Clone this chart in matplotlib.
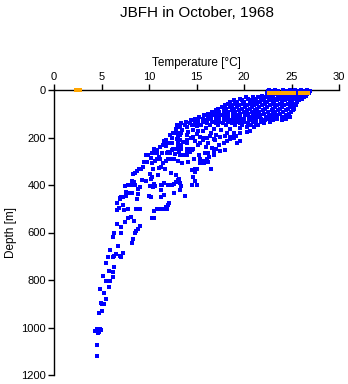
import matplotlib
matplotlib.use("Agg")
import matplotlib.pyplot as plt
from matplotlib.path import Path

plt.rcParams['font.family'] = ['Liberation Sans', 'DejaVu Sans']

title = "JBFH in October, 1968"
xlabel = "Temperature [\u00b0C]"
ylabel = "Depth [m]"
xticks = [0, 5, 10, 15, 20, 25, 30]
yticks = [0, 200, 400, 600, 800, 1000, 1200]

# Upper (mixed layer / thermocline) casts: (depth, temperatures at that depth)
upper_rows = [
    (2,   [22.6, 23.3, 24.1, 24.8, 25.4, 26.0, 26.6]),
    (6,   [22.5, 22.9, 23.6, 24.4, 25.1, 25.8, 26.3, 26.9]),
    (13,  [22.4, 23.0, 23.7, 24.3, 24.9, 25.5, 26.1, 26.8]),
    (18,  [22.7, 23.3, 24.0, 24.6, 25.2, 26.0, 26.6]),
    (24,  [21.9, 22.5, 23.1, 23.9, 24.5, 25.3, 25.9, 26.5]),
    (30,  [20.2, 20.9, 21.5, 22.2, 22.9, 23.6, 24.2, 24.9, 25.6, 26.3]),
    (36,  [19.6, 20.4, 21.1, 21.8, 22.6, 23.2, 23.9, 24.7, 25.4, 26.1]),
    (43,  [18.9, 19.8, 20.6, 21.3, 22.1, 22.8, 23.5, 24.3, 25.1, 25.8]),
    (50,  [18.5, 19.3, 20.0, 20.9, 21.7, 22.4, 23.2, 24.0, 24.8, 25.6]),
    (57,  [18.3, 19.1, 19.9, 20.6, 21.4, 22.2, 23.0, 23.8, 24.6, 25.3]),
    (64,  [18.0, 18.7, 19.5, 20.3, 21.1, 21.9, 22.7, 23.5, 24.2, 25.0, 25.5]),
    (71,  [17.7, 18.5, 19.3, 20.1, 20.8, 21.6, 22.4, 23.3, 24.0, 24.8]),
    (78,  [17.3, 18.1, 18.9, 19.8, 20.6, 21.4, 22.2, 23.0, 23.8, 24.6, 25.3]),
    (85,  [17.0, 17.9, 18.7, 19.5, 20.3, 21.2, 22.0, 22.9, 23.6, 24.4, 25.2]),
    (92,  [16.6, 17.4, 18.3, 19.1, 20.0, 20.8, 21.6, 22.5, 23.3, 24.1, 24.9]),
    (99,  [16.2, 17.0, 17.9, 18.8, 19.6, 20.4, 21.3, 22.1, 23.0, 23.8, 24.7]),
    (106, [15.8, 16.6, 17.5, 18.3, 19.2, 20.1, 20.9, 21.7, 22.6, 23.5, 24.4]),
    (113, [15.3, 16.2, 17.1, 17.9, 18.8, 19.6, 20.5, 21.4, 22.3, 23.1, 24.0, 24.8]),
    (120, [14.8, 15.7, 16.5, 17.4, 18.3, 19.2, 20.0, 20.9, 21.8, 22.6, 23.5, 24.4]),
    (127, [14.4, 15.2, 16.1, 17.0, 17.9, 18.7, 19.6, 20.5, 21.3, 22.2, 23.1, 24.0]),
    (134, [13.9, 14.8, 15.7, 16.6, 17.4, 18.3, 19.2, 20.0, 20.9, 21.8, 22.7]),
    (141, [13.4, 14.3, 15.2, 16.1, 17.0, 17.8, 18.7, 19.6, 20.4, 21.3, 22.1]),
    (148, [13.0, 13.8, 14.7, 15.5, 16.4, 17.3, 18.1, 19.0, 19.8, 20.7, 21.5]),
]

# Deeper samples (temperature, depth)
lower_temp = [
    4.3, 4.5, 4.8, 4.7, 4.6, 4.9, 4.5, 4.55,
    4.7, 5.1, 4.9, 5.0, 5.3, 5.5, 4.8, 5.3,
    5.2, 5.5, 5.7, 5.9, 5.8, 5.5, 5.7, 5.8, 6.2, 6.2, 6.3,
    5.9, 6.25, 6.35, 6.5, 6.95, 7.0, 7.3, 6.7,
    6.2, 6.35, 7.0, 7.1, 7.5, 7.8,
    6.6, 6.6, 6.8, 6.6, 6.95, 6.9,
    7.3, 7.4, 7.8, 7.05, 7.3, 7.6, 7.6, 7.75, 8.2,
    7.5, 7.75, 8.0, 8.35, 8.5,
    8.2, 8.4, 8.5, 8.7, 8.35, 8.9,
    8.1, 8.45, 8.2, 8.3, 8.5, 8.6, 8.8, 9.0,
    8.6, 8.8, 9.0, 8.7, 8.8, 9.0, 8.8,
    9.2, 9.4, 9.5, 9.75, 9.7, 9.9,
    9.3, 9.65, 10.1, 10.4, 10.2, 10.3,
    10.5, 10.6, 10.8, 10.3, 10.6, 10.8,
    10.3, 10.6, 10.8, 11.2,
    10.1, 10.4, 10.6, 10.5, 10.2, 10.0,
    10.3, 10.5, 10.5, 10.8, 11.1, 11.5, 11.8, 11.9, 12.0, 12.1,
    11.3, 11.6, 11.1, 11.3, 11.7,
    10.95, 11.3, 11.4, 11.3, 11.6,
    11.5, 11.8, 12.0, 12.2,
    11.16, 11.5, 11.86, 12.0, 11.6, 11.8,
    11.4, 11.86, 12.2, 12.4, 12.56, 12.9,
    12.0, 12.4, 12.6, 12.8, 13.1,
    12.3, 12.8, 13.2, 13.26, 13.4, 13.8, 13.26, 12.6,
    12.2, 12.56, 12.9, 13.26, 13.4,
    12.9, 13.26, 13.6, 13.96,
    13.1, 13.4, 13.4, 13.96, 14.3, 14.6,
    12.7, 13.26, 13.6, 13.96,
    13.5, 14.1, 14.5, 13.96,
    14.5, 14.8, 14.8, 15.0, 14.67, 14.85, 14.5, 15.0,
    14.7, 15.4, 15.8, 16.2, 16.5, 15.4,
    15.7, 16.1, 16.35, 16.8, 16.8, 17.1, 17.5, 18.0,
    16.2, 15.9, 16.6, 17.4,
    15.4, 15.7, 16.2, 16.8, 16.95,
    13.96, 14.4, 14.67, 15.4, 15.7, 16.1, 16.4,
    14.1, 14.67, 15.2, 15.7, 14.5, 15.0, 15.4,
    17.9, 18.2, 18.5, 18.9, 19.3, 19.6,
    17.5, 18.0, 18.5, 18.9, 19.2,
    18.2, 18.9, 19.6, 20.3, 20.6,
    17.6, 18.5, 19.6, 20.3, 21.0,
    13.96, 13.26, 12.9,
    12.8, 13.5, 16.5, 17.0, 16.0, 16.8,
    12.4, 13.0, 14.0, 15.0, 11.8, 12.4,
    13.0, 14.8, 15.2, 16.0, 12.0, 13.2,
    14.3, 15.3, 10.2, 11.0, 12.6, 13.0,
]
lower_depth = [
    1015, 1005, 1005, 1020, 1025, 1012, 1075, 1120,
    940, 929, 895, 899, 899, 881, 836, 856,
    783, 806, 806, 806, 828, 730, 702, 764, 766, 786, 747,
    674, 705, 699, 690, 699, 705, 688, 657,
    620, 603, 601, 578, 556, 540,
    564, 505, 498, 477, 456, 458,
    486, 505, 502, 449, 452, 446, 430, 433, 433,
    404, 401, 401, 401, 401,
    382, 387, 348, 340, 354, 334,
    536, 550, 643, 629, 603, 592, 587, 572,
    502, 502, 502, 457, 438, 407, 418,
    331, 323, 303, 303, 275, 275,
    379, 382, 354, 334, 376, 368,
    250, 253, 253, 267, 267, 267,
    306, 300, 292, 292,
    404, 410, 404, 396, 449, 446,
    540, 540, 508, 502, 502, 502, 494, 502, 485, 477,
    449, 443, 328, 326, 331,
    356, 401, 401, 421, 393,
    306, 300, 289, 289,
    239, 233, 225, 225, 216, 211,
    267, 267, 264, 253, 250, 250,
    401, 401, 396, 387, 379,
    348, 359, 373, 393, 404, 446, 421, 435,
    188, 182, 182, 191, 182,
    205, 211, 219, 225,
    230, 233, 247, 247, 250, 250,
    269, 275, 272, 272,
    309, 303, 253, 267,
    337, 331, 345, 334, 368, 382, 401, 401,
    289, 292, 306, 303, 334, 306,
    297, 292, 283, 272, 255, 250, 255, 253,
    267, 267, 244, 233,
    222, 211, 222, 205, 211,
    211, 200, 196, 196, 200, 200, 194,
    177, 168, 171, 174, 146, 151, 149,
    225, 213, 205, 202, 225, 213,
    197, 194, 197, 191, 194,
    182, 180, 180, 177, 171,
    168, 163, 160, 157, 154,
    154, 154, 149,
    165, 170, 180, 188, 160, 165,
    200, 196, 190, 185, 235, 225,
    215, 215, 230, 240, 260, 262,
    263, 275, 285, 280, 290, 300,
]

# Surface (orange) values
surf_temp = [2.5, 22.8, 23.2, 23.6, 24.0, 24.4, 24.8, 25.1, 26.1, 26.5]
surf_depth = [0, 11, 11, 11, 11, 11, 11, 11, 11, 11]

blue_t = list(lower_temp)
blue_d = list(lower_depth)
for d, ts in upper_rows:
    blue_t.extend(ts)
    blue_d.extend([d] * len(ts))

fig = plt.figure(figsize=(3.48, 3.84), dpi=100)
ax = fig.add_axes([54/348, 1 - 375/384, (339-54)/348, (375-90)/384])

ax.scatter(blue_t, blue_d, marker='s', s=7.5, c='#0000ff', linewidths=0,
           antialiased=False, zorder=3, clip_on=False)
dash = Path([(-1, -0.42), (1, -0.42), (1, 0.42), (-1, 0.42), (-1, -0.42)],
            [Path.MOVETO, Path.LINETO, Path.LINETO, Path.LINETO, Path.CLOSEPOLY])
ax.scatter(surf_temp, surf_depth, marker=dash, s=28, c='#ffa500', linewidths=0,
           antialiased=False, zorder=4, clip_on=False)

ax.set_xlim(0, 30)
ax.set_ylim(1200, 0)
ax.set_xticks(xticks)
ax.set_yticks(yticks)
ax.xaxis.tick_top()
ax.xaxis.set_label_position('top')
for s in ['right', 'bottom']:
    ax.spines[s].set_visible(False)
for s in ['left', 'top']:
    ax.spines[s].set_linewidth(1.0)
ax.tick_params(direction='out', length=4, width=1, labelsize=8, pad=2)
ax.set_xlabel(xlabel, fontsize=8.5, labelpad=4)
ax.set_ylabel(ylabel, fontsize=8.5, labelpad=3)
fig.text(196.5/348, 1 - 13/384, title, ha='center', va='center', fontsize=11)

fig.savefig('out.png', dpi=100)
